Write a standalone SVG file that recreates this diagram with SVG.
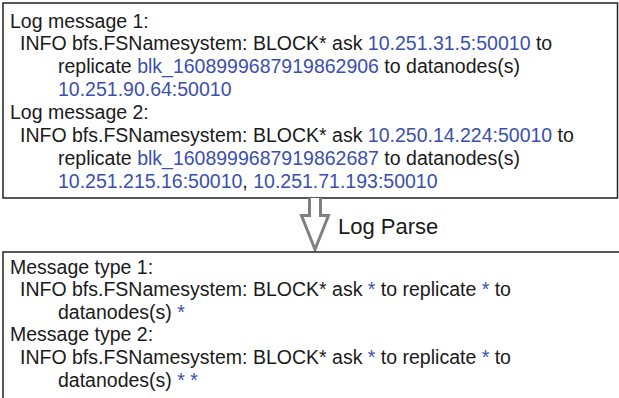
<svg xmlns="http://www.w3.org/2000/svg" width="619" height="398" viewBox="0 0 619 398">
<style>
.box{fill:#fff;stroke:#222;stroke-width:1.5}
text{font-family:"Liberation Sans",Arial,Helvetica,sans-serif;font-size:19.5px;fill:#1a1a1a}
.b{fill:#3b4fae}
.lbl{font-size:22px}
.arrow{fill:#fff;stroke:#808080;stroke-width:3;stroke-linejoin:miter}
</style>
<rect width="619" height="398" fill="#fff"/>
<g id="logs">
<rect class="box" x="3" y="3" width="614.5" height="195"/>
<text x="10" y="27.5">Log message 1:</text>
<text x="20" y="50">INFO bfs.FSNamesystem: BLOCK* ask <tspan class="b">10.251.31.5:50010</tspan> to</text>
<text x="58" y="73">replicate <tspan class="b">blk_1608999687919862906</tspan> to datanodes(s)</text>
<text x="58" y="96" class="b">10.251.90.64:50010</text>
<text x="10" y="119">Log message 2:</text>
<text x="20" y="142">INFO bfs.FSNamesystem: BLOCK* ask <tspan class="b">10.250.14.224:50010</tspan> to</text>
<text x="58" y="165">replicate <tspan class="b">blk_1608999687919862687</tspan> to datanodes(s)</text>
<text x="58" y="188"><tspan class="b">10.251.215.16:50010</tspan>, <tspan class="b">10.251.71.193:50010</tspan></text>
</g>
<g id="connectors">
<path class="arrow" d="M309.5 198 V215.5 H301.5 L315 249.5 L328.5 215.5 H320.5 V198"/>
<text class="lbl" x="338" y="233.5">Log Parse</text>
</g>
<g id="types">
<rect class="box" x="3" y="252" width="640" height="160"/>
<text x="10" y="273.5">Message type 1:</text>
<text x="20" y="296">INFO bfs.FSNamesystem: BLOCK* ask <tspan class="b">*</tspan> to replicate <tspan class="b">*</tspan> to</text>
<text x="58" y="318.5">datanodes(s) <tspan class="b">*</tspan></text>
<text x="10" y="341">Message type 2:</text>
<text x="20" y="364">INFO bfs.FSNamesystem: BLOCK* ask <tspan class="b">*</tspan> to replicate <tspan class="b">*</tspan> to</text>
<text x="58" y="386.5">datanodes(s) <tspan class="b">* *</tspan></text>
</g>
</svg>
